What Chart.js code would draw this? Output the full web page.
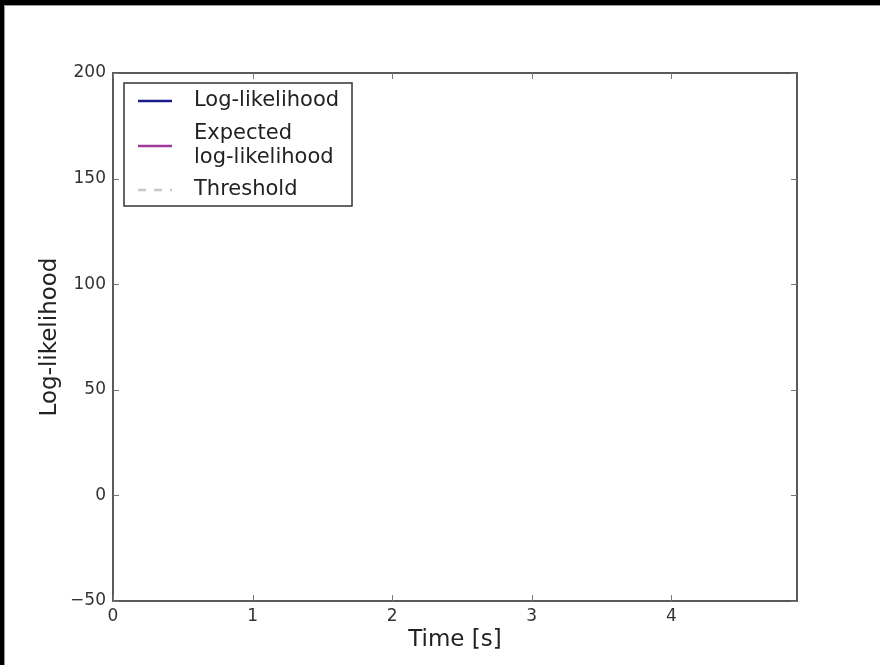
<!DOCTYPE html>
<html>
<head>
<meta charset="utf-8">
<title>Log-likelihood</title>
<script src="https://cdn.jsdelivr.net/npm/chart.js@4.4.1/dist/chart.umd.min.js"></script>
<style>
  html, body { margin: 0; padding: 0; background: #fff; }
  canvas { display: block; }
</style>
</head>
<body>
<canvas id="llChart" width="880" height="665"></canvas>
<script>
// the plot in the picture is still empty: no samples have been drawn yet
const timeValues = [];
const logLikelihood = [];
const expectedLogLikelihood = [];
const thresholdValues = [];

const seriesLabels = ['Log-likelihood', ['Expected', 'log-likelihood'], 'Threshold'];
const xTicks = [0, 1, 2, 3, 4];
const yTicks = [-50, 0, 50, 100, 150, 200];

const toPoints = (ys) => ys.map((y, i) => ({ x: timeValues[i], y }));

// cadre noir de la capture + ticks vers l'intérieur + légende dans le graphique
const framePlugin = {
    id: 'frame',
    beforeDraw(chart) {
        const ctx = chart.ctx;
        ctx.save();
        ctx.fillStyle = '#fff';
        ctx.fillRect(0, 0, chart.width, chart.height);
        ctx.fillStyle = '#000';
        ctx.fillRect(0, 0, chart.width, 5);
        ctx.fillRect(0, 0, 4, chart.height);
        ctx.fillStyle = '#9a9a9a';
        ctx.fillRect(4, 5, chart.width - 4, 1);
        ctx.fillRect(4, 5, 1, chart.height - 5);
        ctx.restore();
    },
    afterDraw(chart) {
        const ctx = chart.ctx;
        const a = chart.chartArea;
        const xs = chart.scales.x, ys = chart.scales.y;
        ctx.save();
        ctx.strokeStyle = '#5a5a5a';
        ctx.lineWidth = 2;
        ctx.strokeRect(a.left, a.top, a.right - a.left, a.bottom - a.top);
        ctx.lineWidth = 1;
        ctx.strokeStyle = '#777';
        const len = 6;
        ctx.beginPath();
        xTicks.forEach(v => {
            const px = Math.round(xs.getPixelForValue(v)) + 0.5;
            ctx.moveTo(px, a.bottom); ctx.lineTo(px, a.bottom - len);
            ctx.moveTo(px, a.top); ctx.lineTo(px, a.top + len);
        });
        yTicks.forEach(v => {
            const py = Math.round(ys.getPixelForValue(v)) + 0.5;
            ctx.moveTo(a.left, py); ctx.lineTo(a.left + len, py);
            ctx.moveTo(a.right, py); ctx.lineTo(a.right - len, py);
        });
        ctx.stroke();

        // légende
        const box = { x: a.left + 11, y: a.top + 10, w: 228, h: 123 };
        ctx.strokeStyle = '#333';
        ctx.lineWidth = 1.5;
        ctx.fillStyle = '#fff';
        ctx.fillRect(box.x, box.y, box.w, box.h);
        ctx.strokeRect(box.x, box.y, box.w, box.h);
        ctx.font = '21px "DejaVu Sans"';
        ctx.textBaseline = 'middle';
        ctx.textAlign = 'left';
        const rowY = [18, 63, 107];
        const lineH = 24;
        chart.data.datasets.forEach((ds, i) => {
            const lines = Array.isArray(ds.label) ? ds.label : [ds.label];
            const cy = box.y + rowY[i];
            ctx.strokeStyle = ds.borderColor;
            ctx.lineWidth = 2.5;
            ctx.setLineDash(ds.borderDash || []);
            ctx.beginPath();
            ctx.moveTo(box.x + 14, cy);
            ctx.lineTo(box.x + 48, cy);
            ctx.stroke();
            ctx.setLineDash([]);
            ctx.fillStyle = '#222';
            const top = cy - (lines.length - 1) * lineH / 2;
            lines.forEach((t, k) => ctx.fillText(t, box.x + 70, top + k * lineH));
        });
        ctx.restore();
    }
};

new Chart(document.getElementById('llChart'), {
    type: 'line',
    data: {
        datasets: [
            { label: seriesLabels[0], data: toPoints(logLikelihood), borderColor: '#1c1c8e', borderWidth: 2, pointRadius: 0 },
            { label: seriesLabels[1], data: toPoints(expectedLogLikelihood), borderColor: '#a23a9e', borderWidth: 2, pointRadius: 0 },
            { label: seriesLabels[2], data: toPoints(thresholdValues), borderColor: '#c8c8c8', borderDash: [8, 8], borderWidth: 2, pointRadius: 0 }
        ]
    },
    options: {
        responsive: false,
        animation: false,
        layout: { padding: { left: 0, top: 73, right: 83, bottom: 0 } },
        plugins: { legend: { display: false }, tooltip: { enabled: false } },
        scales: {
            x: {
                type: 'linear',
                min: 0,
                max: 4.9,
                afterFit: (s) => { s.height = 64; },
                afterBuildTicks: (s) => { s.ticks = xTicks.map(v => ({ value: v })); },
                grid: { display: false, drawTicks: false },
                border: { display: false },
                ticks: { color: '#333', padding: 5, maxRotation: 0, font: { family: 'DejaVu Sans', size: 17 } },
                title: { display: true, text: 'Time [s]', color: '#222', padding: { top: 0, bottom: 11 }, font: { family: 'DejaVu Sans', size: 23 } }
            },
            y: {
                type: 'linear',
                min: -50,
                max: 200,
                afterFit: (s) => { s.width = 113; },
                afterBuildTicks: (s) => { s.ticks = yTicks.map(v => ({ value: v })); },
                grid: { display: false, drawTicks: false },
                border: { display: false },
                ticks: {
                    color: '#333', padding: 7, font: { family: 'DejaVu Sans', size: 17 },
                    callback: (v) => String(v).replace('-', '\u2212')
                },
                title: { display: true, text: 'Log-likelihood', color: '#222', padding: { top: 36, bottom: 0 }, font: { family: 'DejaVu Sans', size: 23 } }
            }
        }
    },
    plugins: [framePlugin]
});
</script>
</body>
</html>
